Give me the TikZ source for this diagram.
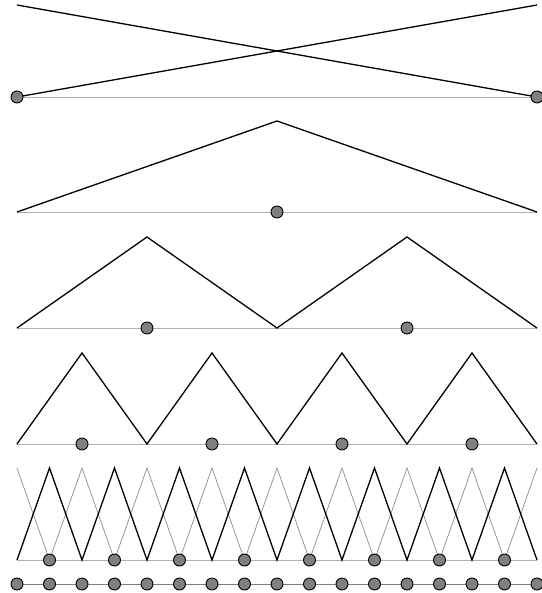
\documentclass[tikz,border=0pt]{standalone}
\usetikzlibrary{calc}

\tikzset{
  hatline/.style={black, line width=1.3pt},
  thinhat/.style={gray!90, line width=0.7pt},
  baseline/.style={gray!60, line width=0.9pt},
  fineline/.style={gray, line width=0.9pt},
  gridpt/.style={circle, draw=black, fill=gray, inner sep=0pt, minimum size=12pt, line width=0.9pt},
}

\begin{document}
\begin{tikzpicture}[x=32.5pt, y=-1pt]
    \useasboundingbox (-17/32.5,0) rectangle (524/32.5,593);

    % Level 1: two linear functions
    \coordinate (L1a) at (0,97);
    \coordinate (L1b) at (16,97);
    \draw[baseline] (L1a) -- (L1b);
    \draw[hatline] (L1a) -- (16,5);
    \draw[hatline] (0,5) -- (L1b);
    \node[gridpt] (d1a) at (L1a) {};
    \node[gridpt] (d1b) at (L1b) {};

    % Level 2: one hat
    \draw[baseline] (0,212) -- (16,212);
    \draw[hatline] (0,212) -- (8,121) -- (16,212);
    \node[gridpt] (d2) at (8,212) {};

    % Level 3: two hats
    \draw[baseline] (0,328) -- (16,328);
    \draw[hatline] (0,328) \foreach \k in {4,12} {-- (\k,237) -- (\k+4,328)};
    \foreach \k in {4,12}
        \node[gridpt] (d3-\k) at (\k,328) {};

    % Level 4: four hats
    \draw[baseline] (0,444) -- (16,444);
    \draw[hatline] (0,444) \foreach \k in {2,6,10,14} {-- (\k,353) -- (\k+2,444)};
    \foreach \k in {2,6,10,14}
        \node[gridpt] (d4-\k) at (\k,444) {};

    % Level 5: eight hats over the nodal hats
    \draw[baseline] (0,560) -- (16,560);
    \draw[thinhat] (0,468) \foreach \k in {1,3,...,15} {-- (\k,560) -- (\k+1,468)};
    \draw[hatline] (0,560) \foreach \k in {1,3,...,15} {-- (\k,468) -- (\k+1,560)};
    \foreach \k in {1,3,...,15}
        \node[gridpt] (d5-\k) at (\k,560) {};

    % Full grid
    \draw[fineline] (0,584) -- (16,584);
    \foreach \k in {0,...,16}
        \node[gridpt] (g\k) at (\k,584) {};

\end{tikzpicture}
\end{document}
